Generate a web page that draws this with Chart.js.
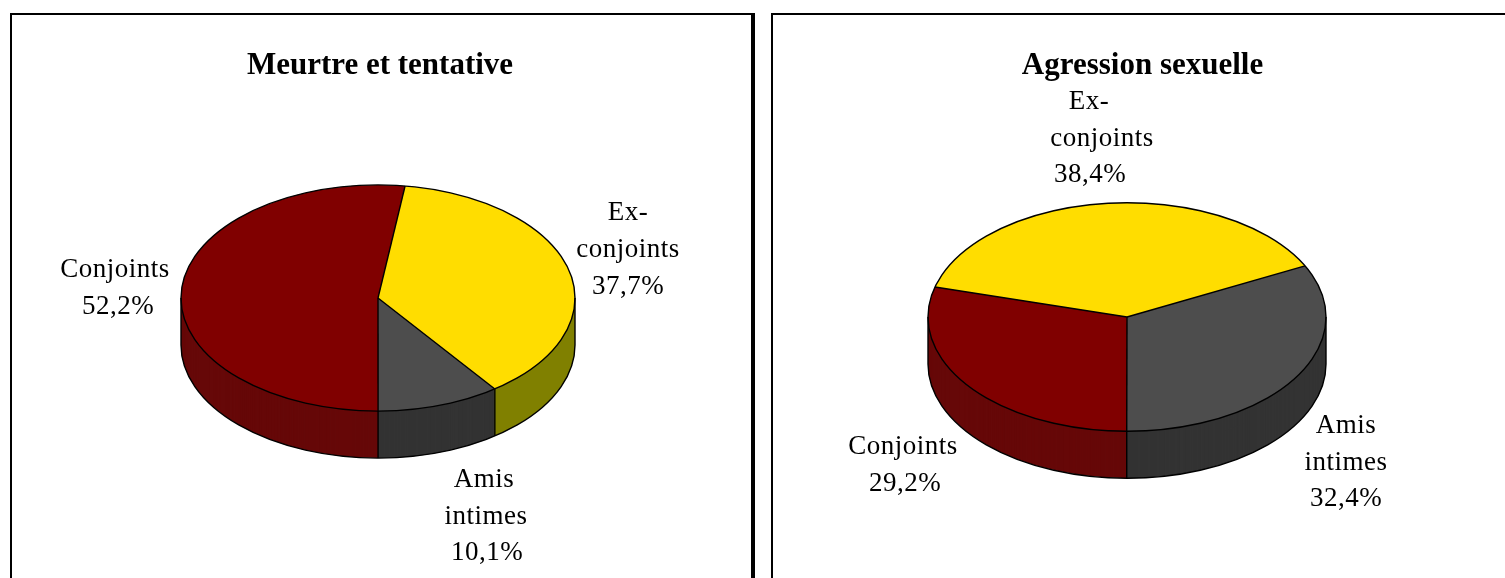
<!DOCTYPE html>
<html lang="fr">
<head>
<meta charset="utf-8">
<title>Meurtre et agression sexuelle</title>
<script src="https://cdn.jsdelivr.net/npm/chart.js@4"></script>
<style>
    html, body { margin: 0; background: #fff; overflow: hidden; }
    #page { position: relative; width: 1505px; height: 578px; overflow: hidden; filter: blur(0.7px); }
    .cadre { position: absolute; top: 13px; height: 600px; box-sizing: border-box; border-style: solid; border-color: #000; }
    #cadre1 { left: 10px; width: 745px; border-width: 2.5px 4px 0 2px; }
    #cadre2 { left: 771px; width: 760px; border-width: 2.5px 0 0 2px; }
    canvas { position: absolute; top: 0; }
    #pie1 { left: 0; }
    #pie2 { left: 760px; }
</style>
</head>
<body>
<div id="page">
    <div class="cadre" id="cadre1"></div>
    <div class="cadre" id="cadre2"></div>
    <canvas id="pie1" width="760" height="578"></canvas>
    <canvas id="pie2" width="745" height="578"></canvas>
</div>
<script>
const categories = ['Ex-\nconjoints', 'Amis\nintimes', 'Conjoints'];
const meurtreValues = [37.7, 10.1, 52.2];
const agressionValues = [38.4, 32.4, 29.2];
const topColors = ['#ffdd00', '#4d4d4d', '#800000'];
const sideColors = ['#808000', '#333333', '#660808'];

// Le camembert est aplati et descendu en épaisseur dans ce plugin
const tiltPlugin = {
    id: 'tilt',
    beforeDatasetsDraw(chart, args, opts) {
        const ctx = chart.ctx;
        const arcs = chart.getDatasetMeta(0).data;
        const r = arcs[0].outerRadius;
        const ry = r * opts.squash;

        const drawLayer = (colors, d) => {
            ctx.save();
            ctx.translate(opts.x, opts.y + d);
            ctx.scale(1, opts.squash);
            ctx.translate(-arcs[0].x, -arcs[0].y);
            arcs.forEach((arc, i) => {
                const saved = arc.options;
                arc.options = Object.assign({}, saved, { backgroundColor: colors[i] });
                arc.draw(ctx);
                arc.options = saved;
            });
            ctx.restore();
        };

        for (let d = opts.depth; d >= 1; d--) drawLayer(sideColors, d);
        drawLayer(topColors, 0);

        ctx.save();
        ctx.strokeStyle = '#000';
        ctx.lineWidth = 1.4;
        ctx.lineJoin = 'round';

        // contour du dessus et rayons
        arcs.forEach(arc => {
            ctx.beginPath();
            ctx.moveTo(opts.x, opts.y);
            ctx.lineTo(opts.x + r * Math.cos(arc.startAngle), opts.y + ry * Math.sin(arc.startAngle));
            ctx.stroke();
        });
        ctx.beginPath();
        ctx.ellipse(opts.x, opts.y, r, ry, 0, 0, Math.PI * 2);
        ctx.stroke();

        // contour du bas et arêtes verticales visibles
        ctx.beginPath();
        ctx.ellipse(opts.x, opts.y + opts.depth, r, ry, 0, 0, Math.PI);
        ctx.stroke();
        const edges = arcs.map(a => a.startAngle).filter(a => Math.sin(a) > 0.02).concat([0, Math.PI]);
        edges.forEach(a => {
            const ex = opts.x + r * Math.cos(a);
            const ey = opts.y + ry * Math.sin(a);
            ctx.beginPath();
            ctx.moveTo(ex, ey);
            ctx.lineTo(ex, ey + opts.depth);
            ctx.stroke();
        });
        ctx.restore();
        return false;
    },
    afterDraw(chart, args, opts) {
        const ctx = chart.ctx;
        const names = chart.data.labels;
        const values = chart.data.datasets[0].data;
        ctx.save();
        ctx.font = '27px "Liberation Serif"';
        ctx.letterSpacing = '0.5px';
        ctx.fillStyle = '#000';
        ctx.textAlign = 'center';
        ctx.textBaseline = 'middle';
        names.forEach((name, i) => {
            const lines = name.split('\n').concat(values[i].toFixed(1).replace('.', ',') + '%');
            lines.forEach((line, j) => {
                const p = opts.anchors[i][j];
                ctx.fillText(line, p[0], p[1]);
            });
        });
        ctx.restore();
    }
};

function makePie(canvasId, title, values, rotation, padding, tilt) {
    return new Chart(document.getElementById(canvasId), {
        type: 'pie',
        data: {
            labels: categories,
            datasets: [{ data: values, backgroundColor: topColors, borderWidth: 0 }]
        },
        options: {
            responsive: false,
            animation: false,
            events: [],
            rotation: rotation,
            layout: { padding: padding },
            plugins: {
                legend: { display: false },
                tooltip: { enabled: false },
                title: {
                    display: true,
                    text: title,
                    color: '#000',
                    font: { family: '"Liberation Serif"', size: 31, weight: 'bold' },
                    padding: { top: 47, bottom: 4 }
                },
                tilt: tilt
            }
        },
        plugins: [tiltPlugin]
    });
}

makePie('pie1', 'Meurtre et tentative', meurtreValues, 7.9,
    { left: 183, right: 183 },
    {
        x: 378, y: 298, squash: 0.574, depth: 47,
        anchors: [
            [[628, 213], [628, 250], [628, 287]],
            [[484, 480], [486, 517], [487, 553]],
            [[115, 270], [118, 307]]
        ]
    });

makePie('pie2', 'Agression sexuelle', agressionValues, -74.8,
    { left: 183.5, right: 163.5 },
    {
        x: 367, y: 317, squash: 0.574, depth: 47,
        anchors: [
            [[329, 102], [342, 139], [330, 175]],
            [[586, 426], [586, 463], [586, 499]],
            [[143, 447], [145, 484]]
        ]
    });
</script>
</body>
</html>
